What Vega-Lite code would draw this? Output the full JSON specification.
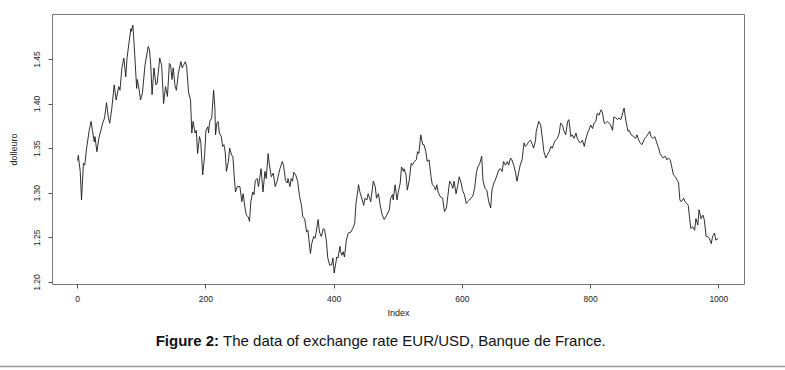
{
  "$schema": "https://vega.github.io/schema/vega-lite/v6.json",
  "width": 692,
  "height": 270,
  "autosize": {"type": "none"},
  "padding": {"left": 52, "top": 14, "right": 41, "bottom": 86},
  "background": "white",
  "config": {
    "view": {"stroke": "#777777", "strokeWidth": 1},
    "axis": {
      "domain": false,
      "grid": false,
      "tickColor": "#555555",
      "tickSize": 4,
      "labelFont": "Liberation Sans",
      "labelFontSize": 8.5,
      "labelColor": "#222222",
      "labelFlush": false,
      "titleFont": "Liberation Sans",
      "titleFontSize": 9,
      "titleFontWeight": "normal",
      "titleColor": "#222222"
    }
  },
  "layer": [
    {
      "data": {"values": [
        {"i":1,"v":1.336},{"i":2,"v":1.342},{"i":5,"v":1.324},{"i":7,"v":1.292},{"i":10,"v":1.333},{"i":12,"v":1.331},{"i":15,"v":1.350},{"i":19,"v":1.370},{"i":22,"v":1.380},{"i":24,"v":1.370},{"i":27,"v":1.357},{"i":28,"v":1.363},{"i":31,"v":1.346},{"i":34,"v":1.361},{"i":40,"v":1.378},{"i":43,"v":1.384},{"i":46,"v":1.401},{"i":49,"v":1.384},{"i":51,"v":1.378},{"i":54,"v":1.393},{"i":58,"v":1.421},{"i":61,"v":1.404},{"i":65,"v":1.419},{"i":67,"v":1.415},{"i":70,"v":1.440},{"i":73,"v":1.451},{"i":76,"v":1.430},{"i":78,"v":1.451},{"i":81,"v":1.468},{"i":84,"v":1.484},{"i":85,"v":1.481},{"i":87,"v":1.488},{"i":88,"v":1.479},{"i":90,"v":1.455},{"i":93,"v":1.417},{"i":94,"v":1.427},{"i":97,"v":1.415},{"i":99,"v":1.404},{"i":102,"v":1.412},{"i":106,"v":1.443},{"i":111,"v":1.464},{"i":113,"v":1.460},{"i":115,"v":1.443},{"i":117,"v":1.410},{"i":120,"v":1.440},{"i":123,"v":1.421},{"i":125,"v":1.423},{"i":129,"v":1.451},{"i":132,"v":1.443},{"i":135,"v":1.400},{"i":138,"v":1.419},{"i":141,"v":1.408},
        {"i":144,"v":1.445},{"i":146,"v":1.443},{"i":148,"v":1.427},{"i":150,"v":1.440},{"i":153,"v":1.419},{"i":155,"v":1.415},{"i":158,"v":1.434},{"i":162,"v":1.447},{"i":164,"v":1.440},{"i":166,"v":1.443},{"i":169,"v":1.447},{"i":171,"v":1.441},{"i":174,"v":1.412},{"i":177,"v":1.404},{"i":179,"v":1.367},{"i":181,"v":1.380},{"i":184,"v":1.367},{"i":186,"v":1.370},{"i":188,"v":1.344},{"i":191,"v":1.363},{"i":193,"v":1.357},{"i":196,"v":1.320},{"i":199,"v":1.342},{"i":201,"v":1.370},{"i":204,"v":1.374},{"i":205,"v":1.367},{"i":207,"v":1.380},{"i":210,"v":1.384},{"i":213,"v":1.415},{"i":215,"v":1.395},{"i":216,"v":1.365},{"i":218,"v":1.378},{"i":220,"v":1.380},{"i":222,"v":1.367},{"i":225,"v":1.363},{"i":227,"v":1.352},{"i":229,"v":1.354},{"i":231,"v":1.346},{"i":233,"v":1.324},{"i":236,"v":1.335},{"i":238,"v":1.350},{"i":241,"v":1.342},{"i":243,"v":1.341},{"i":245,"v":1.320},{"i":247,"v":1.301},{"i":250,"v":1.307},{"i":254,"v":1.307},{"i":257,"v":1.290},{"i":259,"v":1.299},{"i":262,"v":1.283},{"i":264,"v":1.275},{"i":267,"v":1.273},{"i":269,"v":1.268},{"i":271,"v":1.290},{"i":274,"v":1.301},{"i":276,"v":1.298},{"i":278,"v":1.314},{"i":281,"v":1.316},{"i":283,"v":1.307},
        {"i":287,"v":1.327},{"i":290,"v":1.301},{"i":293,"v":1.324},{"i":295,"v":1.316},{"i":298,"v":1.344},{"i":300,"v":1.331},{"i":303,"v":1.318},{"i":306,"v":1.322},{"i":309,"v":1.307},{"i":312,"v":1.313},{"i":316,"v":1.326},{"i":320,"v":1.335},{"i":322,"v":1.331},{"i":325,"v":1.314},{"i":328,"v":1.311},{"i":329,"v":1.316},{"i":332,"v":1.307},{"i":334,"v":1.316},{"i":336,"v":1.313},{"i":338,"v":1.323},{"i":341,"v":1.320},{"i":344,"v":1.313},{"i":347,"v":1.296},{"i":350,"v":1.286},{"i":352,"v":1.273},{"i":355,"v":1.271},{"i":358,"v":1.256},{"i":360,"v":1.258},{"i":363,"v":1.238},{"i":364,"v":1.232},{"i":366,"v":1.243},{"i":369,"v":1.251},{"i":371,"v":1.249},{"i":373,"v":1.256},{"i":376,"v":1.270},{"i":378,"v":1.256},{"i":381,"v":1.251},{"i":384,"v":1.260},{"i":386,"v":1.259},{"i":389,"v":1.245},{"i":391,"v":1.227},{"i":394,"v":1.219},{"i":397,"v":1.219},{"i":399,"v":1.227},{"i":401,"v":1.210},{"i":403,"v":1.219},{"i":405,"v":1.228},{"i":407,"v":1.227},{"i":410,"v":1.240},{"i":411,"v":1.234},{"i":413,"v":1.230},{"i":415,"v":1.234},{"i":417,"v":1.228},{"i":420,"v":1.247},{"i":423,"v":1.255},{"i":427,"v":1.256},{"i":430,"v":1.260},
        {"i":433,"v":1.266},{"i":435,"v":1.288},{"i":439,"v":1.309},{"i":441,"v":1.301},{"i":444,"v":1.294},{"i":447,"v":1.286},{"i":449,"v":1.294},{"i":452,"v":1.292},{"i":454,"v":1.299},{"i":458,"v":1.290},{"i":462,"v":1.313},{"i":465,"v":1.307},{"i":467,"v":1.294},{"i":470,"v":1.299},{"i":473,"v":1.285},{"i":476,"v":1.275},{"i":479,"v":1.270},{"i":483,"v":1.275},{"i":487,"v":1.281},{"i":489,"v":1.294},{"i":492,"v":1.298},{"i":493,"v":1.292},{"i":496,"v":1.309},{"i":499,"v":1.292},{"i":501,"v":1.301},{"i":504,"v":1.311},{"i":506,"v":1.329},{"i":509,"v":1.324},{"i":510,"v":1.327},{"i":513,"v":1.320},{"i":515,"v":1.303},{"i":518,"v":1.314},{"i":521,"v":1.333},{"i":523,"v":1.331},{"i":526,"v":1.335},{"i":529,"v":1.337},{"i":531,"v":1.346},{"i":533,"v":1.344},{"i":536,"v":1.365},{"i":539,"v":1.354},{"i":541,"v":1.354},{"i":544,"v":1.346},{"i":546,"v":1.335},{"i":549,"v":1.337},{"i":552,"v":1.318},{"i":554,"v":1.309},{"i":557,"v":1.307},{"i":559,"v":1.303},{"i":561,"v":1.309},{"i":563,"v":1.301},{"i":566,"v":1.296},{"i":570,"v":1.294},
        {"i":573,"v":1.279},{"i":576,"v":1.283},{"i":579,"v":1.301},{"i":581,"v":1.313},{"i":583,"v":1.311},{"i":586,"v":1.305},{"i":588,"v":1.313},{"i":591,"v":1.299},{"i":594,"v":1.309},{"i":596,"v":1.318},{"i":599,"v":1.311},{"i":601,"v":1.303},{"i":604,"v":1.298},{"i":607,"v":1.288},{"i":609,"v":1.290},{"i":612,"v":1.292},{"i":614,"v":1.294},{"i":617,"v":1.296},{"i":620,"v":1.305},{"i":623,"v":1.324},{"i":625,"v":1.329},{"i":628,"v":1.333},{"i":631,"v":1.341},{"i":633,"v":1.314},{"i":636,"v":1.305},{"i":639,"v":1.303},{"i":642,"v":1.290},{"i":645,"v":1.283},{"i":647,"v":1.303},{"i":650,"v":1.311},{"i":652,"v":1.314},{"i":655,"v":1.320},{"i":658,"v":1.326},{"i":660,"v":1.327},{"i":663,"v":1.324},{"i":665,"v":1.335},{"i":668,"v":1.331},{"i":671,"v":1.335},{"i":673,"v":1.331},{"i":676,"v":1.339},{"i":678,"v":1.337},{"i":681,"v":1.331},{"i":684,"v":1.322},{"i":686,"v":1.313},{"i":689,"v":1.324},{"i":691,"v":1.331},{"i":694,"v":1.337},{"i":697,"v":1.356},{"i":699,"v":1.352},{"i":702,"v":1.354},{"i":704,"v":1.357},{"i":707,"v":1.359},{"i":710,"v":1.354},{"i":712,"v":1.350},{"i":715,"v":1.359},{"i":716,"v":1.369},
        {"i":720,"v":1.380},{"i":723,"v":1.376},{"i":726,"v":1.359},{"i":728,"v":1.346},{"i":731,"v":1.339},{"i":733,"v":1.342},{"i":736,"v":1.346},{"i":739,"v":1.352},{"i":741,"v":1.350},{"i":744,"v":1.356},{"i":746,"v":1.359},{"i":749,"v":1.361},{"i":752,"v":1.367},{"i":754,"v":1.378},{"i":757,"v":1.376},{"i":759,"v":1.370},{"i":762,"v":1.365},{"i":765,"v":1.380},{"i":767,"v":1.382},{"i":770,"v":1.363},{"i":772,"v":1.365},{"i":775,"v":1.361},{"i":778,"v":1.367},{"i":780,"v":1.361},{"i":783,"v":1.357},{"i":785,"v":1.356},{"i":788,"v":1.359},{"i":791,"v":1.352},{"i":793,"v":1.359},{"i":796,"v":1.367},{"i":798,"v":1.370},{"i":801,"v":1.376},{"i":804,"v":1.372},{"i":806,"v":1.378},{"i":809,"v":1.380},{"i":811,"v":1.389},{"i":814,"v":1.387},{"i":817,"v":1.393},{"i":819,"v":1.391},{"i":822,"v":1.378},{"i":824,"v":1.378},{"i":827,"v":1.380},{"i":830,"v":1.378},{"i":832,"v":1.376},{"i":835,"v":1.370},{"i":837,"v":1.385},{"i":840,"v":1.384},{"i":843,"v":1.382},{"i":845,"v":1.384},{"i":848,"v":1.382},{"i":850,"v":1.387},{"i":853,"v":1.395},{"i":856,"v":1.380},
        {"i":859,"v":1.369},{"i":861,"v":1.370},{"i":864,"v":1.365},{"i":868,"v":1.363},{"i":871,"v":1.361},{"i":873,"v":1.365},{"i":876,"v":1.359},{"i":878,"v":1.356},{"i":881,"v":1.354},{"i":885,"v":1.361},{"i":888,"v":1.363},{"i":893,"v":1.369},{"i":895,"v":1.363},{"i":898,"v":1.361},{"i":901,"v":1.363},{"i":904,"v":1.356},{"i":907,"v":1.350},{"i":909,"v":1.344},{"i":912,"v":1.341},{"i":914,"v":1.339},{"i":917,"v":1.341},{"i":920,"v":1.337},{"i":922,"v":1.339},{"i":925,"v":1.337},{"i":928,"v":1.327},{"i":930,"v":1.320},{"i":933,"v":1.318},{"i":936,"v":1.314},{"i":938,"v":1.311},{"i":940,"v":1.292},{"i":942,"v":1.290},{"i":946,"v":1.294},{"i":948,"v":1.290},{"i":951,"v":1.288},{"i":953,"v":1.286},{"i":955,"v":1.273},{"i":957,"v":1.260},{"i":960,"v":1.262},{"i":963,"v":1.258},{"i":965,"v":1.271},{"i":968,"v":1.264},{"i":970,"v":1.281},{"i":973,"v":1.271},{"i":976,"v":1.275},{"i":978,"v":1.270},{"i":981,"v":1.251},{"i":983,"v":1.251},{"i":986,"v":1.249},{"i":989,"v":1.243},{"i":991,"v":1.251},{"i":994,"v":1.255},{"i":996,"v":1.247},{"i":1000,"v":1.249}
      ]},
      "mark": {"type": "line", "color": "#1a1a1a", "strokeWidth": 0.9},
      "encoding": {
        "x": {
          "field": "i", "type": "quantitative", "title": "Index",
          "scale": {"domain": [-39, 1040], "nice": false, "zero": false},
          "axis": {"values": [0, 200, 400, 600, 800, 1000], "format": "d", "labelPadding": 6, "titlePadding": 6}
        },
        "y": {
          "field": "v", "type": "quantitative", "title": "dolleuro",
          "scale": {"domain": [1.1978, 1.5004], "nice": false, "zero": false},
          "axis": {"values": [1.2, 1.25, 1.3, 1.35, 1.4, 1.45], "format": ".2f", "labelAngle": -90, "labelAlign": "center", "labelBaseline": "bottom", "labelPadding": 7, "titlePadding": 14}
        }
      }
    },
    {
      "data": {"values": [{}]},
      "mark": {"type": "text", "text": "Figure 2:", "font": "Liberation Sans", "fontSize": 15, "fontWeight": "bold", "align": "right", "baseline": "alphabetic", "color": "#111111", "clip": false},
      "encoding": {
        "x": {"datum": 221.4, "type": "quantitative", "title": "Index"},
        "y": {"datum": 1.1286, "type": "quantitative", "title": "dolleuro"}
      }
    },
    {
      "data": {"values": [{}]},
      "mark": {"type": "text", "text": "The data of exchange rate EUR/USD, Banque de France.", "font": "Liberation Sans", "fontSize": 15, "align": "left", "baseline": "alphabetic", "color": "#111111", "clip": false},
      "encoding": {
        "x": {"datum": 227.7, "type": "quantitative", "title": "Index"},
        "y": {"datum": 1.1286, "type": "quantitative", "title": "dolleuro"}
      }
    },
    {
      "data": {"values": [{}]},
      "mark": {"type": "rule", "color": "#999999", "strokeWidth": 1.5, "clip": false},
      "encoding": {
        "x": {"datum": -121, "type": "quantitative", "title": "Index"},
        "x2": {"datum": 1105},
        "y": {"datum": 1.1053, "type": "quantitative", "title": "dolleuro"}
      }
    }
  ]
}
